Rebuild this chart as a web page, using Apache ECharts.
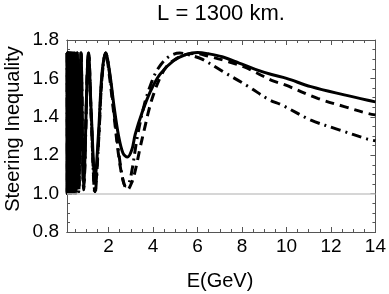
<!DOCTYPE html>
<html>
<head>
<meta charset="utf-8">
<script src="https://cdn.jsdelivr.net/npm/echarts@6/dist/echarts.min.js"></script>
<style>
html,body{margin:0;padding:0;background:#fff;}
#c{width:389px;height:294px;}
</style>
</head>
<body>
<div id="c"></div>
<script>
// ---- data ----
const titleText = 'L = 1300 km.';
const xName = 'E(GeV)';
const yName = 'Steering Inequality';
const xMin = 0.13, xMax = 14;
const yMin = 0.8, yMax = 1.8, yStep = 0.2;
const xMajorTicks = [2, 4, 6, 8, 10, 12, 14];
const xMinorTicks = [0.5, 1, 1.5, 2.5, 3, 3.5, 4.5, 5, 5.5, 6.5, 7, 7.5, 8.5, 9, 9.5, 10.5, 11, 11.5, 12.5, 13, 13.5];
const refLine = [1.0];

// fast oscillation region (shared energies: peak, trough, peak, ...)
const eLow = [0.136,0.139,0.142,0.145,0.149,0.153,0.157,0.161,0.166,0.171,0.176,0.182,0.188,0.194,0.201,0.209,0.217,0.225,0.235,0.245,0.257,0.269,0.283,0.298,0.315,0.333,0.355,0.38,0.41,0.44,0.48,0.53,0.59,0.66,0.76,0.88,1.10];
const vLowSolid = [1.732,1.01, 1.732,1.01, 1.732,1.01, 1.732,1.01, 1.732,1.01, 1.732,1.01, 1.732,1.01, 1.732,1.01, 1.732,1.01, 1.732,1.01, 1.732,1.01, 1.732,1.01, 1.732,1.02, 1.732,1.02, 1.732,1.02, 1.732,1.03, 1.732,1.03, 1.732,1.05, 1.732];
const vLowDashed = [1.732,1.0, 1.732,1.0, 1.732,1.0, 1.732,1.0, 1.732,1.0, 1.732,1.0, 1.732,1.0, 1.732,1.0, 1.732,1.0, 1.732,1.0, 1.732,1.0, 1.732,1.0, 1.732,1.0, 1.732,1.0, 1.732,1.0, 1.732,1.01, 1.732,1.01, 1.732,1.03, 1.732];
const vLowDashDot = [1.732,1.0, 1.732,1.0, 1.732,1.0, 1.732,1.0, 1.732,1.0, 1.732,1.0, 1.732,1.0, 1.732,1.0, 1.732,1.0, 1.732,1.0, 1.732,1.0, 1.732,1.0, 1.732,1.0, 1.732,1.0, 1.732,1.0, 1.732,1.0, 1.732,1.01, 1.732,1.02, 1.732];

// rest of each curve
const eSolid = [1.22,1.39,1.55,1.7,1.87,2.05,2.25,2.45,2.65,2.85,3.05,3.2,3.5,3.87,4.3,4.9,5.5,6.0,6.5,7.1,7.87,8.6,9.33,10.0,11.1,12.6,13.94,14.0];
const vSolid = [1.42,1.08,1.32,1.62,1.732,1.63,1.45,1.3,1.21,1.19,1.23,1.31,1.42,1.53,1.62,1.69,1.725,1.735,1.728,1.713,1.68,1.647,1.62,1.60,1.557,1.514,1.479,1.478];

const eDashed = [1.22,1.39,1.55,1.7,1.87,2.05,2.25,2.45,2.65,2.85,3.05,3.2,3.42,3.64,3.8,4.0,4.3,4.6,5.0,5.5,5.9,6.5,7.4,8.1,8.67,9.33,9.94,11.4,12.6,13.64,14.0];
const vDashed = [1.40,1.01,1.28,1.6,1.732,1.6,1.4,1.2,1.07,1.02,1.06,1.12,1.24,1.35,1.43,1.51,1.6,1.66,1.70,1.725,1.73,1.715,1.687,1.66,1.628,1.59,1.566,1.496,1.453,1.418,1.41];

const eDashDot = [1.22,1.39,1.55,1.7,1.87,2.05,2.25,2.45,2.6,2.75,2.9,3.05,3.3,3.6,3.9,4.22,4.67,5.2,5.7,6.2,7.27,8.3,9.2,9.8,11.1,12.4,13.64,14.0];
const vDashDot = [1.40,1.0,1.27,1.6,1.732,1.62,1.42,1.22,1.1,1.04,1.05,1.12,1.3,1.46,1.57,1.65,1.71,1.732,1.72,1.70,1.627,1.557,1.49,1.461,1.383,1.331,1.284,1.275];

// ---- build ----
function pairs(xs, ys) { return xs.map((x, i) => [x, ys[i]]); }
const solidData = pairs(eLow, vLowSolid).concat(pairs(eSolid, vSolid));
const dashedData = pairs(eLow, vLowDashed).concat(pairs(eDashed, vDashed));
const dashDotData = pairs(eLow, vLowDashDot).concat(pairs(eDashDot, vDashDot));

const FONT = 'Liberation Sans, Arial, sans-serif';
const frameColor = '#555';
const G = { left: 67, top: 40, width: 310, height: 192 };

function xAx(pos, ticks, len, labels) {
  return {
    type: 'value', min: xMin, max: xMax, position: pos,
    axisLine: { show: labels !== null, onZero: false, lineStyle: { color: frameColor, width: 1 } },
    axisTick: { show: true, inside: true, length: len, customValues: ticks, lineStyle: { color: frameColor, width: 1 } },
    axisLabel: labels ? { show: true, customValues: ticks, fontSize: 19, fontFamily: FONT, color: '#000', margin: 5 } : { show: false },
    splitLine: { show: false }
  };
}
function yAx(pos, labels) {
  return {
    type: 'value', min: yMin, max: yMax, interval: yStep, position: pos,
    axisLine: { show: true, onZero: false, lineStyle: { color: frameColor, width: 1 } },
    axisTick: { show: true, inside: true, length: 5, lineStyle: { color: frameColor, width: 1 } },
    minorTick: { show: true, splitNumber: 4, length: 3, lineStyle: { color: frameColor, width: 1 } },
    axisLabel: labels ? { show: true, fontSize: 19, fontFamily: FONT, color: '#000', margin: 8, formatter: v => v.toFixed(1) } : { show: false },
    splitLine: { show: false }
  };
}

const chart = echarts.init(document.getElementById('c'), null, { renderer: 'canvas' });
chart.setOption({
  animation: false,
  backgroundColor: '#fff',
  grid: G,
  xAxis: [
    xAx('bottom', xMajorTicks, 5, true),
    xAx('bottom', xMinorTicks, 3, false),
    xAx('top', xMajorTicks, 5, false),
    xAx('top', xMinorTicks, 3, false)
  ],
  yAxis: [yAx('left', true), yAx('right', false)],
  graphic: [
    { type: 'text', x: 221, y: 14, style: { text: titleText, fontSize: 22, fontFamily: FONT, fill: '#000', align: 'center', verticalAlign: 'middle' } },
    { type: 'text', x: 220, y: 281, style: { text: xName, fontSize: 20, fontFamily: FONT, fill: '#000', align: 'center', verticalAlign: 'middle' } },
    { type: 'text', x: 13, y: 129, rotation: Math.PI / 2, style: { text: yName, fontSize: 20, fontFamily: FONT, fill: '#000', align: 'center', verticalAlign: 'middle' } }
  ],
  series: [
    {
      type: 'line', data: [], z: 1, silent: true,
      markLine: {
        silent: true, symbol: ['none', 'none'], label: { show: false },
        lineStyle: { color: '#c8c8c8', width: 1.5, type: 'solid' },
        data: refLine.map(v => ({ yAxis: v }))
      }
    },
    { type: 'line', data: solidData, z: 3, showSymbol: false, smooth: 0.35, lineStyle: { color: '#000', width: 3, type: 'solid' } },
    { type: 'line', data: dashedData, z: 3, showSymbol: false, smooth: 0.35, lineStyle: { color: '#000', width: 3, type: [9, 6] } },
    { type: 'line', data: dashDotData, z: 3, showSymbol: false, smooth: 0.35, lineStyle: { color: '#000', width: 3, type: [10, 5, 2, 5] } }
  ]
});
</script>
</body>
</html>
